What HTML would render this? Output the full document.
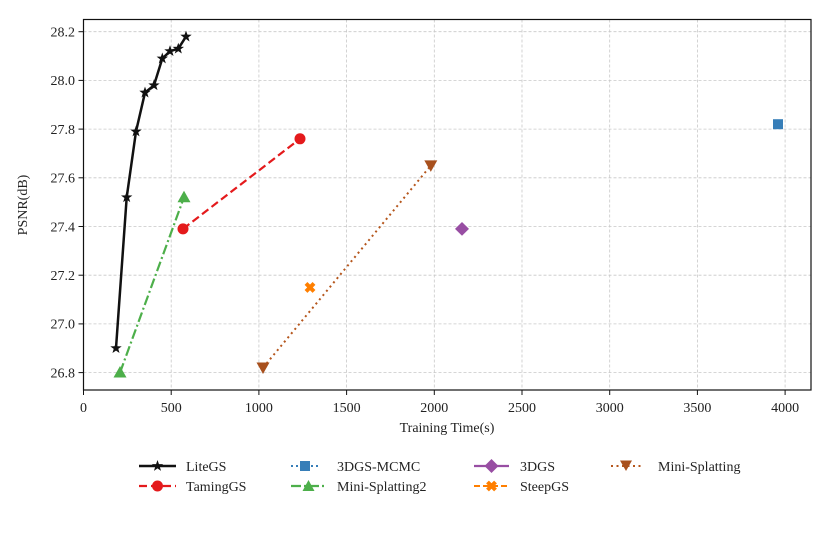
<!DOCTYPE html>
<html><head><meta charset="utf-8"><style>body{margin:0;background:#fff}svg{display:block}text{font-family:"Liberation Serif",serif;fill:#222}</style></head><body>
<svg width="832" height="534" viewBox="0 0 832 534" xmlns="http://www.w3.org/2000/svg">
<defs>
<symbol id="star" viewBox="-1 -1 2 2" overflow="visible"><polygon points="0,-1 0.24,-0.32 0.95,-0.31 0.38,0.12 0.59,0.81 0,0.4 -0.59,0.81 -0.38,0.12 -0.95,-0.31 -0.24,-0.32" fill="#111"/></symbol>
</defs>
<g stroke="#c8c8c8" stroke-width="0.8" stroke-dasharray="3,2">
<line x1="171.2" y1="19.5" x2="171.2" y2="390"/><line x1="258.9" y1="19.5" x2="258.9" y2="390"/><line x1="346.6" y1="19.5" x2="346.6" y2="390"/><line x1="434.3" y1="19.5" x2="434.3" y2="390"/><line x1="522" y1="19.5" x2="522" y2="390"/><line x1="609.7" y1="19.5" x2="609.7" y2="390"/><line x1="697.4" y1="19.5" x2="697.4" y2="390"/><line x1="785.1" y1="19.5" x2="785.1" y2="390"/>
<line x1="83.5" y1="31.7" x2="811" y2="31.7"/><line x1="83.5" y1="80.4" x2="811" y2="80.4"/><line x1="83.5" y1="129.1" x2="811" y2="129.1"/><line x1="83.5" y1="177.8" x2="811" y2="177.8"/><line x1="83.5" y1="226.5" x2="811" y2="226.5"/><line x1="83.5" y1="275.2" x2="811" y2="275.2"/><line x1="83.5" y1="323.9" x2="811" y2="323.9"/><line x1="83.5" y1="372.6" x2="811" y2="372.6"/>
</g>
<rect x="83.5" y="19.5" width="727.5" height="370.5" fill="none" stroke="#111" stroke-width="1.2"/>
<g stroke="#111" stroke-width="1">
<line x1="83.5" y1="390" x2="83.5" y2="395"/><line x1="171.2" y1="390" x2="171.2" y2="395"/><line x1="258.9" y1="390" x2="258.9" y2="395"/><line x1="346.6" y1="390" x2="346.6" y2="395"/><line x1="434.3" y1="390" x2="434.3" y2="395"/><line x1="522" y1="390" x2="522" y2="395"/><line x1="609.7" y1="390" x2="609.7" y2="395"/><line x1="697.4" y1="390" x2="697.4" y2="395"/><line x1="785.1" y1="390" x2="785.1" y2="395"/>
<line x1="78.5" y1="31.7" x2="83.5" y2="31.7"/><line x1="78.5" y1="80.4" x2="83.5" y2="80.4"/><line x1="78.5" y1="129.1" x2="83.5" y2="129.1"/><line x1="78.5" y1="177.8" x2="83.5" y2="177.8"/><line x1="78.5" y1="226.5" x2="83.5" y2="226.5"/><line x1="78.5" y1="275.2" x2="83.5" y2="275.2"/><line x1="78.5" y1="323.9" x2="83.5" y2="323.9"/><line x1="78.5" y1="372.6" x2="83.5" y2="372.6"/>
</g>
<g font-size="14" text-anchor="middle">
<text x="83.5" y="412">0</text><text x="171.2" y="412">500</text><text x="258.9" y="412">1000</text><text x="346.6" y="412">1500</text><text x="434.3" y="412">2000</text><text x="522" y="412">2500</text><text x="609.7" y="412">3000</text><text x="697.4" y="412">3500</text><text x="785.1" y="412">4000</text>
<text x="447" y="432">Training Time(s)</text>
</g>
<g font-size="14" text-anchor="end">
<text x="75" y="36.5">28.2</text><text x="75" y="85.2">28.0</text><text x="75" y="133.9">27.8</text><text x="75" y="182.6">27.6</text><text x="75" y="231.3">27.4</text><text x="75" y="280">27.2</text><text x="75" y="328.7">27.0</text><text x="75" y="377.4">26.8</text>
</g>
<text font-size="14" text-anchor="middle" transform="translate(27,205) rotate(-90)">PSNR(dB)</text>
<polyline points="116,348.2 126.7,197.3 136,131.5 145,92.6 154,85.3 162.3,58.5 170,51.2 178.3,48.7 186,36.6" fill="none" stroke="#111" stroke-width="2.5"/>
<g><use href="#star" x="110" y="342.2" width="12" height="12"/><use href="#star" x="120.7" y="191.3" width="12" height="12"/><use href="#star" x="130" y="125.5" width="12" height="12"/><use href="#star" x="139" y="86.6" width="12" height="12"/><use href="#star" x="148" y="79.3" width="12" height="12"/><use href="#star" x="156.3" y="52.5" width="12" height="12"/><use href="#star" x="164" y="45.2" width="12" height="12"/><use href="#star" x="172.3" y="42.7" width="12" height="12"/><use href="#star" x="180" y="30.6" width="12" height="12"/></g>
<line x1="183" y1="228.9" x2="300" y2="138.8" stroke="#e41a1c" stroke-width="2.2" stroke-dasharray="8,4"/>
<circle cx="183" cy="228.9" r="5.5" fill="#e41a1c"/><circle cx="300" cy="138.8" r="5.5" fill="#e41a1c"/>
<line x1="120" y1="372.6" x2="184" y2="197.3" stroke="#4daf4a" stroke-width="2.2" stroke-dasharray="10,3,2,3"/>
<polygon points="120,366 126.5,377.5 113.5,377.5" fill="#4daf4a"/><polygon points="184,190.7 190.5,202.2 177.5,202.2" fill="#4daf4a"/>
<line x1="263" y1="367.7" x2="430.8" y2="165.6" stroke="#b5561c" stroke-width="2" stroke-dasharray="2,3.5"/>
<polygon points="256.5,362.5 269.5,362.5 263,374" fill="#a8501d"/><polygon points="424.3,160.4 437.3,160.4 430.8,171.9" fill="#a8501d"/>
<rect x="773" y="119.2" width="10" height="10" fill="#377eb8"/>
<polygon points="462,222 469,228.9 462,235.8 455,228.9" fill="#984ea3"/>
<g stroke="#ff7f00" stroke-width="4"><line x1="306" y1="283.4" x2="314" y2="291.4"/><line x1="314" y1="283.4" x2="306" y2="291.4"/></g>
<g font-size="14">
<line x1="139" y1="466" x2="176" y2="466" stroke="#111" stroke-width="2.5"/><use href="#star" x="151.5" y="460" width="12" height="12"/><text x="186" y="471">LiteGS</text>
<line x1="291" y1="466" x2="320" y2="466" stroke="#377eb8" stroke-width="2" stroke-dasharray="2,3"/><rect x="300" y="461" width="10" height="10" fill="#377eb8"/><text x="337" y="471">3DGS-MCMC</text>
<line x1="474" y1="466" x2="509" y2="466" stroke="#984ea3" stroke-width="2.2"/><polygon points="491.5,459 498.5,466 491.5,473 484.5,466" fill="#984ea3"/><text x="520" y="471">3DGS</text>
<line x1="611" y1="466" x2="641" y2="466" stroke="#b5561c" stroke-width="2" stroke-dasharray="2,3.5"/><polygon points="620,460.5 632,460.5 626,471" fill="#a8501d"/><text x="658" y="471">Mini-Splatting</text>
<line x1="139" y1="486" x2="176" y2="486" stroke="#e41a1c" stroke-width="2.2" stroke-dasharray="8,4"/><circle cx="157.5" cy="486" r="5.5" fill="#e41a1c"/><text x="186" y="491">TamingGS</text>
<line x1="291" y1="486" x2="326" y2="486" stroke="#4daf4a" stroke-width="2.2" stroke-dasharray="10,3,2,3"/><polygon points="308.5,480 314.5,491 302.5,491" fill="#4daf4a"/><text x="337" y="491">Mini-Splatting2</text>
<line x1="474" y1="486" x2="509" y2="486" stroke="#ff7f00" stroke-width="2" stroke-dasharray="6,3"/><g stroke="#ff7f00" stroke-width="4"><line x1="487.5" y1="482" x2="495.5" y2="490"/><line x1="495.5" y1="482" x2="487.5" y2="490"/></g><text x="520" y="491">SteepGS</text>
</g>
</svg>
</body></html>
